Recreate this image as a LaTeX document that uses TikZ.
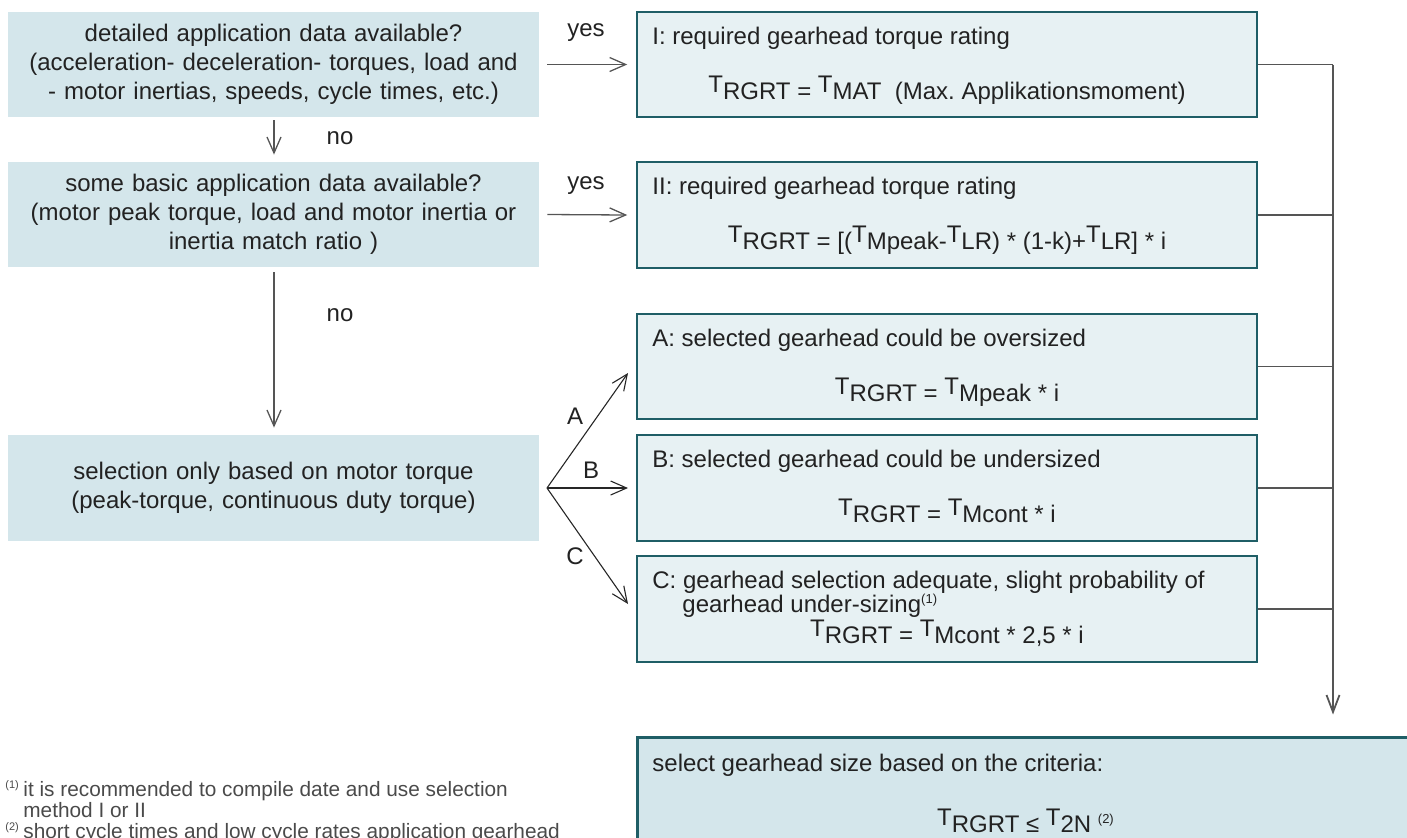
\documentclass[tikz,border=0pt]{standalone}
\usepackage{fontspec}
\setmainfont{Liberation Sans}
\usetikzlibrary{arrows.meta}
\frenchspacing
\definecolor{leftfill}{HTML}{D4E6EB}
\definecolor{rightfill}{HTML}{E7F1F3}
\definecolor{boxedge}{HTML}{1F5E66}
\definecolor{txt}{HTML}{222222}
\definecolor{linegray}{HTML}{555555}
\definecolor{notegray}{HTML}{4A4A4A}
\newcommand\TT{\raisebox{0.28em}{T}}
\newcommand\fnm[1]{\textsuperscript{\fontsize{6.5}{7}\selectfont(#1)}}
\tikzset{
  leftbox/.style={fill=leftfill, draw=none, minimum width=265.5pt, inner sep=0pt, align=center, text width=262pt, font=\fontsize{12}{14.5}\selectfont},
  rightbox/.style={fill=rightfill, draw=boxedge, line width=0.75pt, minimum width=310pt, inner sep=0pt},
  title/.style={anchor=base west, inner sep=0pt},
  formula/.style={anchor=base, inner sep=0pt},
  lbl/.style={inner sep=0pt},
  note/.style={anchor=base west, inner sep=0pt, text=notegray, font=\fontsize{10.4}{12}\selectfont},
  notemark/.style={anchor=base west, inner sep=0pt, text=notegray, font=\fontsize{5.5}{6}\selectfont},
  arr/.style={draw=linegray, line width=0.65pt, -{Straight Barb[length=8pt,width=7pt]}},
  fanarr/.style={draw=black!85, line width=0.55pt, -{Straight Barb[length=8pt,width=7pt]}},
  conn/.style={draw=linegray, line width=0.75pt},
  spinearr/.style={draw=linegray, line width=0.9pt, -{Straight Barb[length=8.5pt,width=6.5pt]}}
}
\begin{document}
\begin{tikzpicture}[x=0.5pt,y=-0.5pt, font=\fontsize{12}{14.5}\selectfont, text=txt]
\useasboundingbox (0,0) rectangle (1407,837);
\clip (0,0) rectangle (1407,837);

% left question boxes
\node[leftbox, minimum height=52.5pt] (q1) at (273.5,64.5) {detailed application data available?\\(acceleration- deceleration- torques, load and\\- motor inertias, speeds, cycle times, etc.)};
\node[leftbox, minimum height=52.5pt] (q2) at (273.5,214.5) {some basic application data available?\\(motor peak torque, load and motor inertia or\\inertia match ratio )};
\node[leftbox, minimum height=53pt] (q3) at (273.5,488) {selection only based on motor torque\\(peak-torque, continuous duty torque)};

% right result boxes
\node[rightbox, minimum height=52.5pt] (r1) at (947,64.5) {};
\node[rightbox, minimum height=53pt] (r2) at (947,215) {};
\node[rightbox, minimum height=52.5pt] (ra) at (947,366.5) {};
\node[rightbox, minimum height=53pt] (rb) at (947,488) {};
\node[rightbox, minimum height=53pt] (rc) at (947,609) {};
\node[fill=leftfill, draw=boxedge, line width=1.5pt, minimum width=391.5pt, minimum height=81.5pt, inner sep=0pt] (sel) at (1028.5,818.5) {};

% texts in right boxes
\node[title] (t1) at (652,44) {I: required gearhead torque rating};
\node[formula] (f1) at (947,99) {\TT RGRT = \TT MAT\ \ (Max. Applikationsmoment)};
\node[title] (t2) at (652,194) {II: required gearhead torque rating};
\node[formula] (f2) at (947,249) {\TT RGRT = [(\TT Mpeak-\TT LR) * (1-k)+\TT LR] * i};
\node[title] (ta) at (652,346) {A: selected gearhead could be oversized};
\node[formula] (fa) at (947,401) {\TT RGRT = \TT Mpeak * i};
\node[title] (tb) at (652,467) {B: selected gearhead could be undersized};
\node[formula] (fb) at (947,522) {\TT RGRT = \TT Mcont * i};
\node[title] (tc) at (652,588) {C: gearhead selection adequate, slight probability of};
\node[title] (tc2) at (682,612) {gearhead under-sizing\fnm{1}};
\node[formula] (fc) at (947,643) {\TT RGRT = \TT Mcont * 2,5 * i};
\node[title] (ts) at (652,771) {select gearhead size based on the criteria:};
\node[formula] (fs) at (1026,832) {\TT RGRT ≤ \TT 2N \fnm{2}};

% yes arrows
\draw[arr] ([xshift=4pt]q1.east) -- ([xshift=-4.5pt]r1.west);
\draw[arr] ([xshift=4pt]q2.east) -- ([xshift=-4.5pt]r2.west);
\node[lbl] (y1) at (586,33) {yes};
\node[lbl] (y2) at (586,186) {yes};

% no arrows
\coordinate (dn) at (274,0);
\draw[arr, shorten <=1.5pt, shorten >=3.5pt] (q1.south -| dn) -- (q2.north -| dn);
\draw[arr, shorten <=2.5pt, shorten >=3.5pt] (q2.south -| dn) -- (q3.north -| dn);
\node[lbl] (n1) at (340,138) {no};
\node[lbl] (n2) at (340,315) {no};

% fan
\coordinate (fan) at (547,488);
\coordinate (tipA) at (628,373);
\coordinate (tipB) at (628,488);
\coordinate (tipC) at (628,604);
\draw[fanarr] (fan) -- (tipA);
\draw[fanarr] (fan) -- (tipB);
\draw[fanarr] (fan) -- (tipC);
\node[lbl] (la) at (575,416) {A};
\node[lbl] (lb) at (591,470) {B};
\node[lbl] (lc) at (575,556) {C};

% spine
\coordinate (spine) at (1333,0);
\draw[conn] (r1.east) -- (r1.east -| spine);
\draw[conn] (r2.east) -- (r2.east -| spine);
\draw[conn] (ra.east) -- (ra.east -| spine);
\draw[conn] (rb.east) -- (rb.east -| spine);
\draw[conn] (rc.east) -- (rc.east -| spine);
\draw[spinearr] (r1.east -| spine) -- ([yshift=10.5pt]sel.north -| spine);

% footnotes
\node[notemark] (m1) at (5,788) {(1)};
\node[note] (fn1) at (23,796) {it is recommended to compile date and use selection};
\node[note] (fn1b) at (23,817) {method I or II};
\node[notemark] (m2) at (5,830) {(2)};
\node[note] (fn2) at (23,838) {short cycle times and low cycle rates application gearhead};
\end{tikzpicture}
\end{document}
